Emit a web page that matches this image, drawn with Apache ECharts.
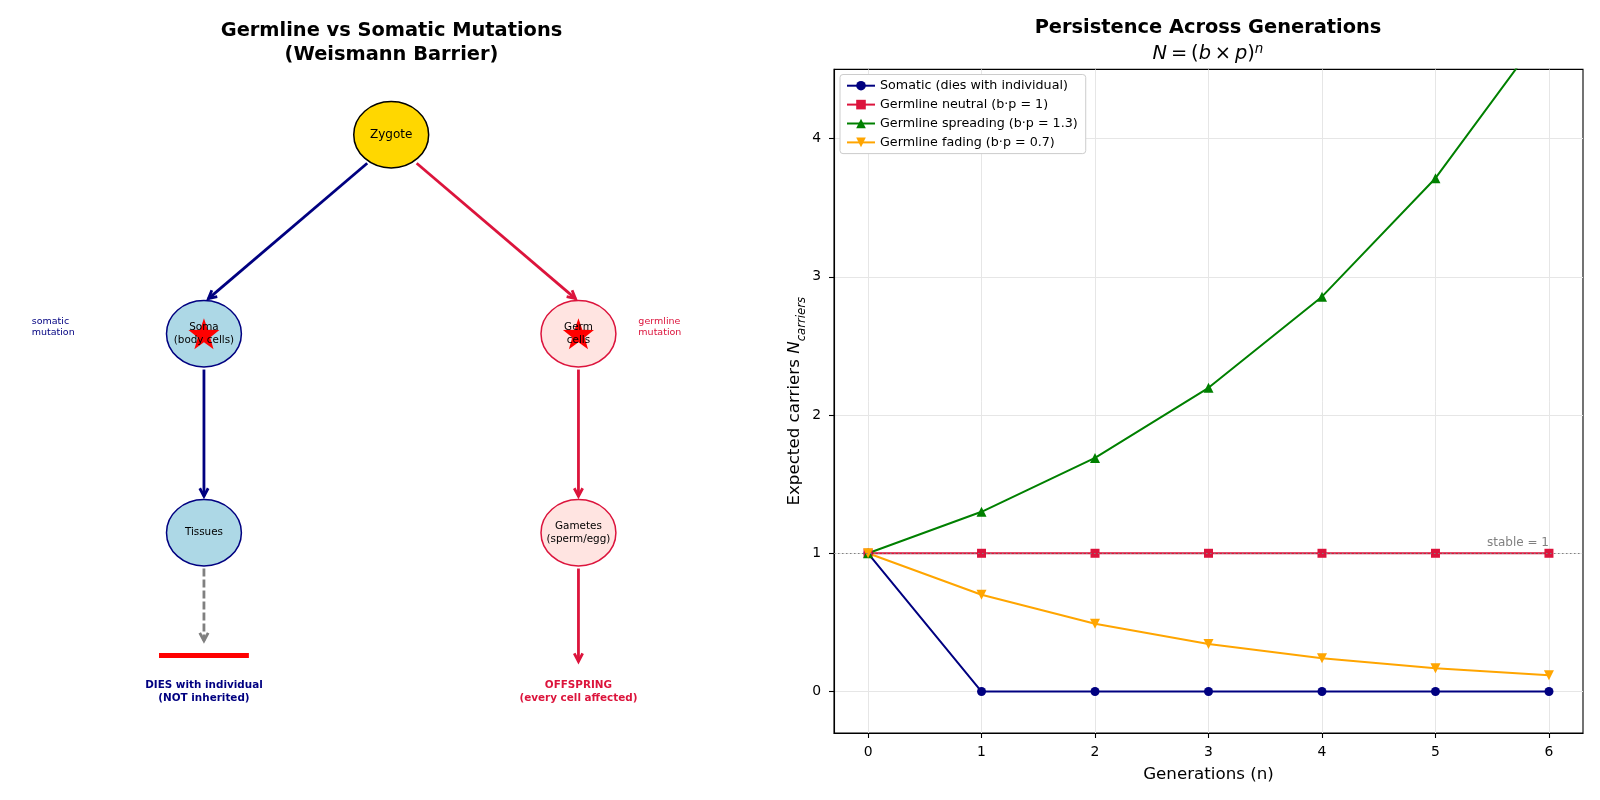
<!DOCTYPE html>
<html><head><meta charset="utf-8">
<script src="https://cdn.jsdelivr.net/npm/echarts@6/dist/echarts.min.js"></script>
<style>html,body{margin:0;padding:0;background:#fff}#c{width:1600px;height:800px}</style>
</head><body><div id="c"></div>
<script>
// ---------- right panel data ----------
const generations = [0, 1, 2, 3, 4, 5, 6];
const somatic = [1, 0, 0, 0, 0, 0, 0];
const germNeutral = [1, 1, 1, 1, 1, 1, 1];
const germSpreading = [1, 1.3, 1.69, 2.197, 2.856, 3.713, 4.827];
const germFading = [1, 0.7, 0.49, 0.343, 0.24, 0.168, 0.118];
const seriesNames = ['Somatic (dies with individual)', 'Germline neutral (b·p = 1)', 'Germline spreading (b·p = 1.3)', 'Germline fading (b·p = 0.7)'];
const xTicks = [0, 1, 2, 3, 4, 5, 6];
const yTicks = [0, 1, 2, 3, 4];
const stableLevel = 1;
const stableLabelAt = 6;
const stableText = 'stable = 1';

// ---------- left panel (diagram) data, in diagram units 0..10 ----------
const nodeNames = ['Zygote', 'Soma\n(body cells)', 'Germ\ncells', 'Tissues', 'Gametes\n(sperm/egg)'];
const nodeX = [5, 2.5, 7.5, 2.5, 7.5];
const nodeY = [9, 6, 6, 3, 3];
const nodeKind = ['zygote', 'soma', 'germ', 'soma', 'germ'];
const nodeRadius = 0.5;
const starNodes = [1, 2];
const arrowFrom = [[4.68, 8.57], [5.34, 8.57], [2.5, 5.46], [7.5, 5.46], [2.5, 2.46], [7.5, 2.46]];
const arrowTo = [[2.56, 6.53], [7.46, 6.53], [2.5, 3.55], [7.5, 3.55], [2.5, 1.37], [7.5, 1.06]];
const arrowKind = ['soma', 'germ', 'soma', 'germ', 'fate', 'germ'];
const barrierFrom = [1.9, 1.15];
const barrierTo = [3.1, 1.15];
const sideNotes = ['somatic\nmutation', 'germline\nmutation'];
const sideNoteX = [0.2, 8.3];
const sideNoteY = [6.1, 6.1];
const sideNoteKind = ['soma', 'germ'];
const outcomeTexts = ['DIES with individual\n(NOT inherited)', 'OFFSPRING\n(every cell affected)'];
const outcomeX = [2.5, 7.5];
const outcomeY = [0.6, 0.6];
const outcomeKind = ['soma', 'germ'];

// ---------- styles ----------
const FONT = '"DejaVu Sans", "Liberation Sans", sans-serif';
const NAVY = '#000080', CRIMSON = '#DC143C', GREEN = '#008000', ORANGE = '#FFA500';
const nodeStyle = {
  zygote: { fill: '#FFD700', stroke: '#000000' },
  soma: { fill: '#ADD8E6', stroke: NAVY },
  germ: { fill: '#FFE4E1', stroke: CRIMSON }
};
const arrowStyle = {
  soma: { color: NAVY, dash: null },
  germ: { color: CRIMSON, dash: null },
  fate: { color: '#808080', dash: [8, 3] }
};
const textColor = { soma: NAVY, germ: CRIMSON };

function starPath() {
  let d = '';
  for (let i = 0; i < 10; i++) {
    const r = i % 2 === 0 ? 50 : 20;
    const a = -Math.PI / 2 + i * Math.PI / 5;
    const x = 50 + r * Math.cos(a), y = 50 + r * Math.sin(a);
    d += (i === 0 ? 'M' : 'L') + x.toFixed(2) + ',' + y.toFixed(2) + ' ';
  }
  return 'path://' + d + 'Z';
}
const downTri = 'path://M0,0 L10,0 L5,8.66 Z';

const chart = echarts.init(document.getElementById('c'), null, { renderer: 'canvas' });

const DIAG = { xAxisIndex: 1, yAxisIndex: 1 };
const TS = '\u2009';

const option = {
  animation: false,
  backgroundColor: '#ffffff',
  textStyle: { fontFamily: FONT },
  graphic: [
    { type: 'text', x: 391.5, y: 43, style: { text: 'Germline vs Somatic Mutations\n(Weismann Barrier)', fontFamily: FONT, fontWeight: 'bold', fontSize: 19.4, lineHeight: 23.5, fill: '#000', align: 'center', verticalAlign: 'middle' } },
    { type: 'text', x: 1208, y: 27.5, style: { text: 'Persistence Across Generations', fontFamily: FONT, fontWeight: 'bold', fontSize: 19.4, fill: '#000', align: 'center', verticalAlign: 'middle' } },
    { type: 'text', x: 1208, y: 54, style: {
        text: '{i|N}{r|' + TS + '=' + TS + '(}{i|b}{r|' + TS + '×' + TS + '}{i|p}{r|)}{s|n}',
        align: 'center', verticalAlign: 'middle',
        rich: {
          i: { fontFamily: FONT, fontStyle: 'italic', fontSize: 19.4, lineHeight: 24, fill: '#000' },
          r: { fontFamily: FONT, fontSize: 19.4, lineHeight: 24, fill: '#000' },
          s: { fontFamily: FONT, fontStyle: 'italic', fontSize: 13.5, lineHeight: 14, verticalAlign: 'top', fill: '#000' }
        } } }
  ],
  legend: {
    orient: 'vertical', left: 840, top: 74.5,
    data: seriesNames,
    itemWidth: 28, itemHeight: 12, itemGap: 5.9,
    padding: [4.7, 8, 4.7, 6],
    backgroundColor: '#ffffff', borderColor: '#cccccc', borderWidth: 1, borderRadius: 3,
    selectedMode: false,
    textStyle: { fontFamily: FONT, fontSize: 12.7, lineHeight: 13, color: '#000' }
  },
  grid: [
    { left: 834, top: 69.4, width: 749, height: 663.6, show: true, borderColor: '#000', borderWidth: 1.1, backgroundColor: 'transparent', containLabel: false },
    { left: 16.7, top: 68.4, width: 749, height: 663.3, show: false, containLabel: false }
  ],
  xAxis: [
    {
      type: 'value', gridIndex: 0, min: -0.3, max: 6.3,
      name: 'Generations (n)', nameLocation: 'middle', nameGap: 33,
      nameTextStyle: { fontFamily: FONT, fontSize: 16.7, color: '#000' },
      axisLine: { show: true, onZero: false, lineStyle: { color: '#000', width: 1.1 } },
      axisTick: { show: true, length: 5, customValues: xTicks, lineStyle: { color: '#000', width: 1.1 } },
      axisLabel: { customValues: xTicks, margin: 12, fontFamily: FONT, fontSize: 13.9, color: '#000' },
      splitLine: { show: true, lineStyle: { color: '#e6e6e6', width: 1 } }
    },
    { type: 'value', gridIndex: 1, min: 0, max: 10, show: false }
  ],
  yAxis: [
    {
      type: 'value', gridIndex: 0, min: -0.3, max: 4.5,
      name: 'Expected carriers {i|N}{sub|carriers}', nameLocation: 'middle', nameGap: 26, nameRotate: 90,
      nameTextStyle: {
        fontFamily: FONT, fontSize: 16.7, color: '#000', lineHeight: 26,
        rich: {
          i: { fontFamily: FONT, fontStyle: 'italic', fontSize: 16.7, lineHeight: 26, color: '#000' },
          sub: { fontFamily: FONT, fontStyle: 'italic', fontSize: 11.7, lineHeight: 12, verticalAlign: 'bottom', color: '#000' }
        }
      },
      axisLine: { show: true, onZero: false, lineStyle: { color: '#000', width: 1.1 } },
      axisTick: { show: true, length: 5, customValues: yTicks, lineStyle: { color: '#000', width: 1.1 } },
      axisLabel: { customValues: yTicks, margin: 13, fontFamily: FONT, fontSize: 13.9, color: '#000' },
      splitLine: { show: true, lineStyle: { color: '#e6e6e6', width: 1 } }
    },
    { type: 'value', gridIndex: 1, min: 0, max: 10, show: false }
  ],
  series: [
    {
      name: seriesNames[0], type: 'line', xAxisIndex: 0, yAxisIndex: 0,
      data: generations.map((g, i) => [g, somatic[i]]),
      symbol: 'circle', symbolSize: 9,
      lineStyle: { color: NAVY, width: 2 }, itemStyle: { color: NAVY }
    },
    {
      name: seriesNames[1], type: 'line', xAxisIndex: 0, yAxisIndex: 0,
      data: generations.map((g, i) => [g, germNeutral[i]]),
      symbol: 'rect', symbolSize: 9,
      lineStyle: { color: CRIMSON, width: 2 }, itemStyle: { color: CRIMSON },
      markLine: {
        silent: true, symbol: ['none', 'none'], label: { show: false },
        lineStyle: { color: '#808080', type: [1.5, 2.5], width: 1 },
        data: [{ yAxis: stableLevel }]
      }
    },
    {
      name: seriesNames[2], type: 'line', xAxisIndex: 0, yAxisIndex: 0,
      data: generations.map((g, i) => [g, germSpreading[i]]),
      symbol: 'triangle', symbolSize: 10, clip: true,
      lineStyle: { color: GREEN, width: 2 }, itemStyle: { color: GREEN }
    },
    {
      name: seriesNames[3], type: 'line', xAxisIndex: 0, yAxisIndex: 0,
      data: generations.map((g, i) => [g, germFading[i]]),
      symbol: downTri, symbolSize: 10,
      lineStyle: { color: ORANGE, width: 2 }, itemStyle: { color: ORANGE }
    },
    {
      name: 'stableLabel', type: 'custom', xAxisIndex: 0, yAxisIndex: 0, silent: true, z: 5,
      data: [[stableLabelAt, stableLevel]],
      renderItem: function (params, api) {
        const p = api.coord([api.value(0), api.value(1)]);
        return { type: 'text', x: p[0], y: p[1] - 4, style: { text: stableText, fill: '#808080', fontFamily: FONT, fontSize: 12, align: 'right', verticalAlign: 'bottom' } };
      }
    },
    // ---------- diagram ----------
    {
      name: 'nodes', type: 'custom', ...DIAG, silent: true, z: 2,
      data: nodeX.map((x, i) => [x, nodeY[i]]),
      renderItem: function (params, api) {
        const c = api.coord([api.value(0), api.value(1)]);
        const s = api.size([nodeRadius, nodeRadius]);
        const st = nodeStyle[nodeKind[params.dataIndex]];
        return { type: 'ellipse', shape: { cx: c[0], cy: c[1], rx: s[0], ry: s[1] }, style: { fill: st.fill, stroke: st.stroke, lineWidth: 1.5 } };
      }
    },
    {
      name: 'arrows', type: 'custom', ...DIAG, silent: true, z: 2,
      data: arrowFrom.map((f, i) => [f[0], f[1], arrowTo[i][0], arrowTo[i][1]]),
      encode: { x: [0, 2], y: [1, 3] },
      renderItem: function (params, api) {
        const p1 = api.coord([api.value(0), api.value(1)]);
        const p2 = api.coord([api.value(2), api.value(3)]);
        const st = arrowStyle[arrowKind[params.dataIndex]];
        const ang = Math.atan2(p2[1] - p1[1], p2[0] - p1[0]);
        const L = 8, W = 4.2;
        const bx = p2[0] - L * Math.cos(ang), by = p2[1] - L * Math.sin(ang);
        const h1 = [bx + W * Math.sin(ang), by - W * Math.cos(ang)];
        const h2 = [bx - W * Math.sin(ang), by + W * Math.cos(ang)];
        return {
          type: 'group', children: [
            { type: 'line', shape: { x1: p1[0], y1: p1[1], x2: p2[0], y2: p2[1] }, style: { stroke: st.color, lineWidth: 2.8, lineDash: st.dash } },
            { type: 'polyline', shape: { points: [h1, p2, h2] }, style: { stroke: st.color, lineWidth: 2.8, fill: null, lineJoin: 'miter' } }
          ]
        };
      }
    },
    {
      name: 'barrier', type: 'custom', ...DIAG, silent: true, z: 2,
      data: [[barrierFrom[0], barrierFrom[1], barrierTo[0], barrierTo[1]]],
      encode: { x: [0, 2], y: [1, 3] },
      renderItem: function (params, api) {
        const p1 = api.coord([api.value(0), api.value(1)]);
        const p2 = api.coord([api.value(2), api.value(3)]);
        return { type: 'line', shape: { x1: p1[0], y1: p1[1], x2: p2[0], y2: p2[1] }, style: { stroke: '#ff0000', lineWidth: 5 } };
      }
    },
    {
      name: 'stars', type: 'scatter', ...DIAG, silent: true, z: 3,
      data: starNodes.map(i => [nodeX[i], nodeY[i]]),
      symbol: starPath(), symbolSize: 31,
      itemStyle: { color: '#ff0000', opacity: 1 }
    },
    {
      name: 'nodeLabels', type: 'custom', ...DIAG, silent: true, z: 4,
      data: nodeX.map((x, i) => [x, nodeY[i]]),
      renderItem: function (params, api) {
        const c = api.coord([api.value(0), api.value(1)]);
        const i = params.dataIndex;
        const big = nodeKind[i] === 'zygote';
        return { type: 'text', x: c[0], y: c[1], style: { text: nodeNames[i], fill: '#000', fontFamily: FONT, fontSize: big ? 12 : 10.4, lineHeight: 13, align: 'center', verticalAlign: 'middle' } };
      }
    },
    {
      name: 'sideNotes', type: 'custom', ...DIAG, silent: true, z: 4,
      data: sideNoteX.map((x, i) => [x, sideNoteY[i]]),
      renderItem: function (params, api) {
        const c = api.coord([api.value(0), api.value(1)]);
        const i = params.dataIndex;
        return { type: 'text', x: c[0], y: c[1], style: { text: sideNotes[i], fill: textColor[sideNoteKind[i]], fontFamily: FONT, fontSize: 9.5, lineHeight: 10.5, align: 'left', verticalAlign: 'middle' } };
      }
    },
    {
      name: 'outcomes', type: 'custom', ...DIAG, silent: true, z: 4,
      data: outcomeX.map((x, i) => [x, outcomeY[i]]),
      renderItem: function (params, api) {
        const c = api.coord([api.value(0), api.value(1)]);
        const i = params.dataIndex;
        return { type: 'text', x: c[0], y: c[1], style: { text: outcomeTexts[i], fill: textColor[outcomeKind[i]], fontFamily: FONT, fontWeight: 'bold', fontSize: 10.4, lineHeight: 13, align: 'center', verticalAlign: 'middle' } };
      }
    }
  ]
};
chart.setOption(option);
</script>
</body></html>
